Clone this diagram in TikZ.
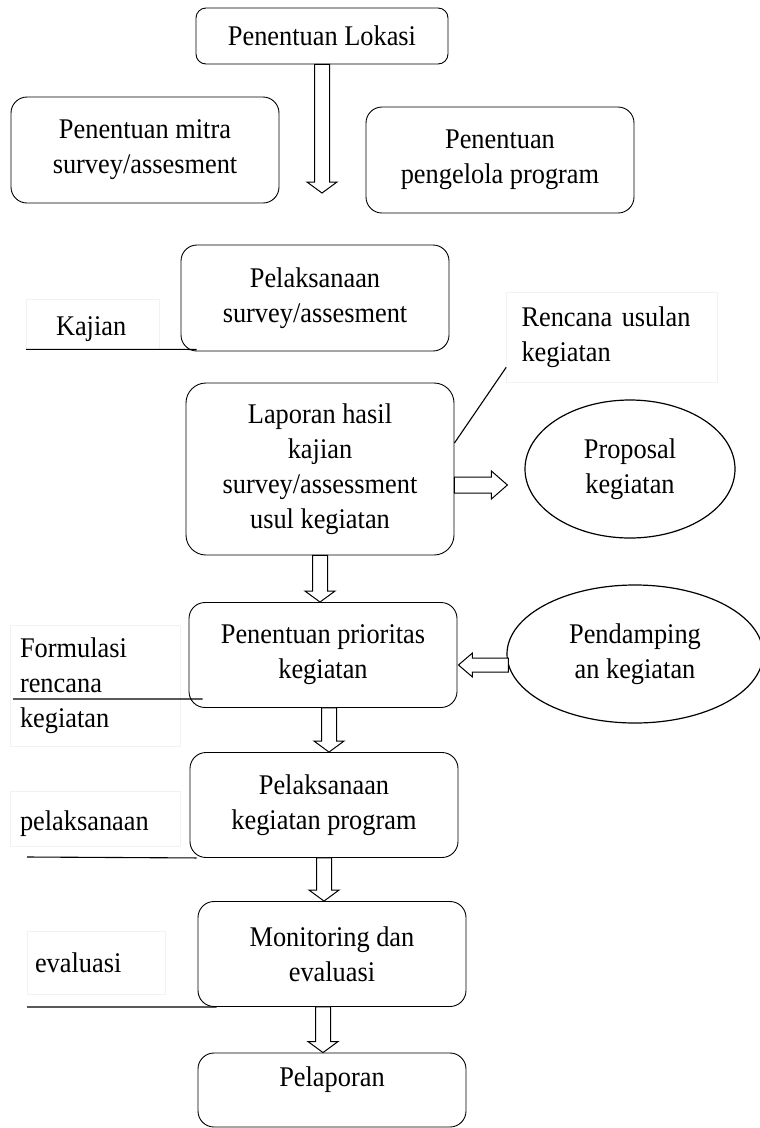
\documentclass[tikz,border=0pt]{standalone}
\usepackage{fontspec}
\setmainfont[FakeStretch=0.925]{Liberation Serif}
\usetikzlibrary{calc,shapes.geometric}
\tikzset{
  box/.style={draw,rounded corners=16pt,line width=0.9pt,minimum width=268pt,
    minimum height=105pt,align=center,inner sep=2pt},
  oval/.style={draw,ellipse,line width=1.2pt,align=center,inner sep=0pt},
  note/.style={draw=black!5,line width=0.6pt,align=left,inner ysep=0pt},
  rule/.style={line width=1.1pt},
  blockarrow/.style={draw,line width=1pt,fill=white,line join=miter}
}
\newcommand{\downblock}[2]{%
  \draw[blockarrow] let \p1=(#1), \p2=(#2) in
    (\x1-7.5pt,\y1) -- (\x1-7.5pt,\y2+11pt) -- (\x1-15pt,\y2+11pt) -- (\x1,\y2)
    -- (\x1+15pt,\y2+11pt) -- (\x1+7.5pt,\y2+11pt) -- (\x1+7.5pt,\y1) -- cycle;}
\newcommand{\rightblock}[2]{%
  \draw[blockarrow] let \p1=(#1), \p2=(#2) in
    (\x1,\y1-8pt) -- (\x2-16pt,\y1-8pt) -- (\x2-16pt,\y1-14pt) -- (\x2,\y1)
    -- (\x2-16pt,\y1+14pt) -- (\x2-16pt,\y1+8pt) -- (\x1,\y1+8pt) -- cycle;}
\newcommand{\leftblock}[2]{%
  \draw[blockarrow] let \p1=(#1), \p2=(#2) in
    (\x1,\y1-7pt) -- (\x2+14pt,\y1-7pt) -- (\x2+14pt,\y1-12pt) -- (\x2,\y1)
    -- (\x2+14pt,\y1+12pt) -- (\x2+14pt,\y1+7pt) -- (\x1,\y1+7pt) -- cycle;}
\begin{document}
\begin{tikzpicture}[x=1pt,y=-1pt,font=\fontsize{28.5}{35}\selectfont]
  \useasboundingbox (0,0) rectangle (760,1128);

  \node[box,minimum width=252pt,minimum height=56pt,rounded corners=10pt] (lokasi) at (322,36) {Penentuan Lokasi};
  \node[box,minimum height=106pt] (mitra) at (145,150) {Penentuan mitra\\survey/assesment};
  \node[box,minimum height=106pt] (pengelola) at (500,160) {Penentuan\\pengelola program};
  \node[box,minimum height=106pt] (survei) at (315,298) {Pelaksanaan\\survey/assesment};
  \node[box,minimum height=172pt,rounded corners=20pt] (laporan) at (320,469) {Laporan hasil\\kajian\\survey/assessment\\usul kegiatan};
  \node[box] (prioritas) at (323,655) {Penentuan prioritas\\kegiatan};
  \node[box] (pelaksanaan) at (324,805) {Pelaksanaan\\kegiatan program};
  \node[box] (monev) at (332,954) {Monitoring dan\\evaluasi};
  \node[box,minimum height=74pt,text height=20pt,text depth=26.5pt] (pelaporan) at (332,1090) {Pelaporan};

  \node[oval,minimum width=210pt,minimum height=138pt] (proposal) at (630,469) {Proposal\\kegiatan};
  \node[oval,minimum width=256pt,minimum height=138pt] (pendamping) at (635,654) {Pendamping\\an kegiatan};

  \node[note,minimum width=133pt,minimum height=50pt,inner xsep=29.5pt,text width=74pt,text height=30pt,text depth=6.5pt] (kajian) at (93,324) {Kajian};
  \node[note,minimum width=211pt,minimum height=90pt,inner xsep=15pt,text width=181pt] (rencana) at (612,337) {Rencana usulan\\kegiatan};
  \node[note,minimum width=170pt,minimum height=121pt,inner xsep=10pt,text width=150pt] (formulasi) at (95,686) {Formulasi\\rencana\\kegiatan};
  \node[note,minimum width=170pt,minimum height=55pt,inner xsep=10pt,text width=150pt,text height=30pt,text depth=6.5pt] (pelak) at (95,819) {pelaksanaan};
  \node[note,minimum width=138pt,minimum height=63pt,inner xsep=8pt,text width=122pt] (evaluasi) at (96,963) {evaluasi};

  \coordinate (t1) at (324,193);
  \coordinate (f1) at (13,699);
  \coordinate (p1) at (27,857);
  \coordinate (e1) at (27,1007);

  \downblock{lokasi.south}{t1}
  \downblock{laporan.south}{prioritas.north}
  \downblock{$(prioritas.south)+(6,0)$}{pelaksanaan.north}
  \downblock{pelaksanaan.south}{monev.north}
  \downblock{$(monev.south)+(-9,0)$}{pelaporan.north}
  \rightblock{$(laporan.east)+(0,16)$}{$(proposal.west)+(-17,16)$}
  \leftblock{$(pendamping.west)+(2,11)$}{$(prioritas.east)+(1,10)$}

  \begin{scope}[rule]
    \draw (kajian.south west) -- ($(survei.south west)+(16,-2)$);
    \draw ($(laporan.east)+(0,-26)$) -- ($(rencana.south west)+(0,-15)$);
    \draw (f1) -- ($(prioritas.south west)+(14,-9)$);
    \draw (p1) -- ($(pelaksanaan.south west)+(7,0)$);
    \draw (e1) -- ($(monev.south west)+(19,0)$);
  \end{scope}
\end{tikzpicture}
\end{document}
